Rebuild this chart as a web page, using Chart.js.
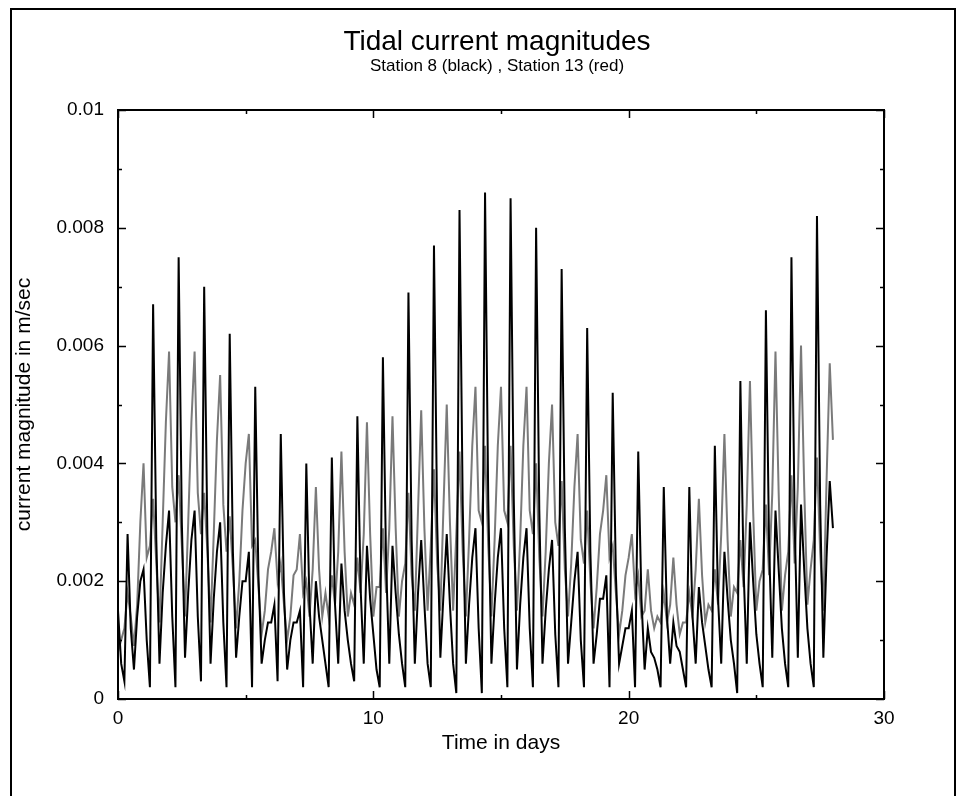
<!DOCTYPE html>
<html>
<head>
<meta charset="utf-8">
<script src="https://cdn.jsdelivr.net/npm/chart.js@4/dist/chart.umd.min.js"></script>
<style>
html,body{margin:0;padding:0;background:#fff;}
#wrap{position:relative;width:959px;height:796px;overflow:hidden;}
#frame{position:absolute;left:10px;top:8px;width:946px;height:800px;border-left:2px solid #000;border-top:2px solid #000;border-right:2px solid #000;box-sizing:border-box;pointer-events:none;}
canvas{position:absolute;left:0;top:0;}
</style>
</head>
<body>
<div id="wrap"><canvas id="c" width="959" height="796"></canvas><div id="frame"></div></div>
<script>
const titleText = "Tidal current magnitudes";
const subtitleText = "Station 8 (black) , Station 13 (red)";
const xAxisLabel = "Time in days";
const yAxisLabel = "current magnitude in m/sec";
const xTickLabels = ["0", "10", "20", "30"];
const yTickLabels = ["0", "0.002", "0.004", "0.006", "0.008", "0.01"];
const seriesNames = ["Station 8", "Station 13"];
const sampleStartDay = 0;
const sampleStepDays = 0.125; // 3-hourly samples

// Station 8 (black), m/sec
const station8 = [
0.0015,0.0006,0.0003,0.0028,0.0012,0.0005,0.0014,0.0020,
0.0022,0.0010,0.0002,0.0067,0.0027,0.0006,0.0018,0.0026,
0.0032,0.0014,0.0002,0.0075,0.0030,0.0007,0.0018,0.0027,
0.0032,0.0014,0.0003,0.0070,0.0028,0.0006,0.0017,0.0025,
0.0030,0.0013,0.0002,0.0062,0.0025,0.0007,0.0014,0.0020,
0.0020,0.0025,0.0002,0.0053,0.0021,0.0006,0.0010,0.0013,
0.0013,0.0016,0.0003,0.0045,0.0018,0.0005,0.0010,0.0013,
0.0013,0.0015,0.0002,0.0040,0.0016,0.0006,0.0020,0.0014,
0.0010,0.0006,0.0002,0.0041,0.0016,0.0006,0.0023,0.0015,
0.0010,0.0006,0.0003,0.0048,0.0019,0.0006,0.0026,0.0017,
0.0011,0.0005,0.0002,0.0058,0.0023,0.0006,0.0026,0.0018,
0.0011,0.0006,0.0002,0.0069,0.0027,0.0006,0.0018,0.0027,
0.0016,0.0006,0.0002,0.0077,0.0030,0.0007,0.0018,0.0028,
0.0016,0.0006,0.0001,0.0083,0.0033,0.0006,0.0016,0.0024,
0.0029,0.0012,0.0001,0.0086,0.0034,0.0006,0.0016,0.0024,
0.0029,0.0012,0.0002,0.0085,0.0034,0.0005,0.0016,0.0024,
0.0029,0.0012,0.0002,0.0080,0.0032,0.0006,0.0015,0.0022,
0.0027,0.0011,0.0002,0.0073,0.0029,0.0006,0.0013,0.0020,
0.0025,0.0010,0.0002,0.0063,0.0025,0.0006,0.0011,0.0017,
0.0017,0.0021,0.0002,0.0052,0.0021,0.0006,0.0009,0.0012,
0.0012,0.0015,0.0002,0.0042,0.0017,0.0005,0.0012,0.0008,
0.0007,0.0005,0.0002,0.0036,0.0014,0.0006,0.0013,0.0009,
0.0008,0.0005,0.0002,0.0036,0.0014,0.0006,0.0019,0.0013,
0.0009,0.0005,0.0002,0.0043,0.0017,0.0006,0.0025,0.0017,
0.0010,0.0006,0.0001,0.0054,0.0022,0.0006,0.0030,0.0020,
0.0011,0.0006,0.0002,0.0066,0.0026,0.0007,0.0032,0.0022,
0.0012,0.0006,0.0002,0.0075,0.0030,0.0007,0.0033,0.0022,
0.0012,0.0006,0.0002,0.0082,0.0033,0.0007,0.0024,0.0037,
0.0029
];

// Station 13 (red, printed grey), m/sec
const station13 = [
0.0008,0.0010,0.0012,0.0018,0.0014,0.0009,0.0016,0.0030,
0.0040,0.0024,0.0026,0.0034,0.0023,0.0013,0.0030,0.0047,
0.0059,0.0036,0.0030,0.0038,0.0026,0.0014,0.0030,0.0047,
0.0059,0.0035,0.0028,0.0035,0.0025,0.0013,0.0028,0.0044,
0.0055,0.0033,0.0025,0.0031,0.0022,0.0012,0.0020,0.0032,
0.0040,0.0045,0.0026,0.0027,0.0019,0.0011,0.0015,0.0022,
0.0025,0.0029,0.0020,0.0023,0.0016,0.0010,0.0014,0.0021,
0.0022,0.0028,0.0018,0.0020,0.0014,0.0022,0.0036,0.0022,
0.0014,0.0018,0.0014,0.0021,0.0016,0.0025,0.0042,0.0025,
0.0014,0.0018,0.0016,0.0024,0.0018,0.0028,0.0047,0.0028,
0.0014,0.0019,0.0019,0.0029,0.0018,0.0029,0.0048,0.0029,
0.0014,0.0020,0.0023,0.0035,0.0021,0.0015,0.0032,0.0049,
0.0029,0.0015,0.0026,0.0039,0.0023,0.0015,0.0033,0.0050,
0.0030,0.0015,0.0028,0.0042,0.0025,0.0014,0.0027,0.0043,
0.0053,0.0032,0.0030,0.0043,0.0026,0.0014,0.0027,0.0043,
0.0053,0.0032,0.0030,0.0043,0.0026,0.0015,0.0027,0.0043,
0.0053,0.0032,0.0028,0.0040,0.0024,0.0014,0.0025,0.0040,
0.0050,0.0030,0.0026,0.0037,0.0022,0.0014,0.0023,0.0036,
0.0045,0.0027,0.0023,0.0032,0.0020,0.0012,0.0019,0.0028,
0.0032,0.0038,0.0024,0.0026,0.0018,0.0011,0.0015,0.0021,
0.0024,0.0028,0.0018,0.0021,0.0014,0.0015,0.0022,0.0015,
0.0012,0.0014,0.0013,0.0018,0.0013,0.0016,0.0024,0.0016,
0.0011,0.0013,0.0013,0.0018,0.0014,0.0022,0.0034,0.0021,
0.0013,0.0016,0.0015,0.0022,0.0016,0.0028,0.0045,0.0027,
0.0014,0.0019,0.0018,0.0027,0.0019,0.0033,0.0054,0.0032,
0.0015,0.0020,0.0022,0.0033,0.0021,0.0035,0.0059,0.0035,
0.0015,0.0021,0.0025,0.0038,0.0023,0.0036,0.0060,0.0036,
0.0016,0.0022,0.0027,0.0041,0.0025,0.0015,0.0037,0.0057,
0.0044
];

const FONT = '"Liberation Sans", Arial, Helvetica, sans-serif';

function toPoints(values) {
  return values.map((v, i) => ({ x: sampleStartDay + i * sampleStepDays, y: v }));
}

function fmtY(v) {
  const r = Number(v.toFixed(4));
  return r === 0 ? '0' : String(r);
}

const framePlugin = {
  id: 'framePlugin',
  afterDatasetsDraw(chart) {
    const { ctx, chartArea: { left, right, top, bottom }, scales: { x, y } } = chart;
    ctx.save();
    ctx.strokeStyle = '#000';
    ctx.lineWidth = 2;
    ctx.strokeRect(left, top, right - left, bottom - top);
    ctx.lineWidth = 1.5;
    x.ticks.forEach(t => {
      const px = Math.round(x.getPixelForValue(t.value)) + 0.5;
      const len = xTickLabels.includes(String(t.value)) ? 8 : 4;
      ctx.beginPath();
      ctx.moveTo(px, bottom); ctx.lineTo(px, bottom - len);
      ctx.moveTo(px, top); ctx.lineTo(px, top + len);
      ctx.stroke();
    });
    y.ticks.forEach(t => {
      const py = Math.round(y.getPixelForValue(t.value)) + 0.5;
      const len = yTickLabels.includes(fmtY(t.value)) ? 8 : 4;
      ctx.beginPath();
      ctx.moveTo(left, py); ctx.lineTo(left + len, py);
      ctx.moveTo(right, py); ctx.lineTo(right - len, py);
      ctx.stroke();
    });
    ctx.restore();
  },
  afterDraw(chart) {
    const { ctx } = chart;
    const cx = (chart.chartArea.left + chart.chartArea.right) / 2;
    ctx.save();
    ctx.fillStyle = '#000';
    ctx.textAlign = 'center';
    ctx.textBaseline = 'middle';
    ctx.font = '28px ' + FONT;
    ctx.fillText(titleText, cx - 4, 42);
    ctx.font = '17px ' + FONT;
    ctx.fillText(subtitleText, cx - 4, 66);
    ctx.restore();
  }
};

new Chart(document.getElementById('c'), {
  type: 'line',
  data: {
    datasets: [
      { label: seriesNames[0], data: toPoints(station8), borderColor: '#000', borderWidth: 2, pointRadius: 0, tension: 0, fill: false },
      { label: seriesNames[1], data: toPoints(station13), borderColor: '#7a7a7a', borderWidth: 2, pointRadius: 0, tension: 0, fill: false }
    ]
  },
  options: {
    responsive: false,
    animation: false,
    devicePixelRatio: 1,
    layout: { padding: { left: 12, right: 75, top: 110, bottom: 40 } },
    plugins: { legend: { display: false }, tooltip: { enabled: false }, title: { display: false } },
    scales: {
      x: {
        type: 'linear', min: 0, max: 30,
        grid: { display: false, drawTicks: false },
        border: { display: false },
        ticks: {
          stepSize: 5, color: '#000', padding: 8, maxRotation: 0, autoSkip: false,
          font: { size: 19, family: FONT },
          callback: v => xTickLabels.includes(String(v)) ? String(v) : ''
        },
        title: { display: true, text: xAxisLabel, color: '#000', font: { size: 21, family: FONT }, padding: { top: 0, bottom: 0 } },
        afterFit: s => { s.height = 57; }
      },
      y: {
        type: 'linear', min: 0, max: 0.01,
        grid: { display: false, drawTicks: false },
        border: { display: false },
        ticks: {
          stepSize: 0.001, color: '#000', padding: 14, autoSkip: false,
          font: { size: 19, family: FONT },
          callback: v => { const s = fmtY(v); return yTickLabels.includes(s) ? s : ''; }
        },
        title: { display: true, text: yAxisLabel, color: '#000', font: { size: 21, family: FONT }, padding: { top: 0, bottom: 0 } },
        afterFit: s => { s.width = 106; }
      }
    }
  },
  plugins: [framePlugin]
});
</script>
</body>
</html>
